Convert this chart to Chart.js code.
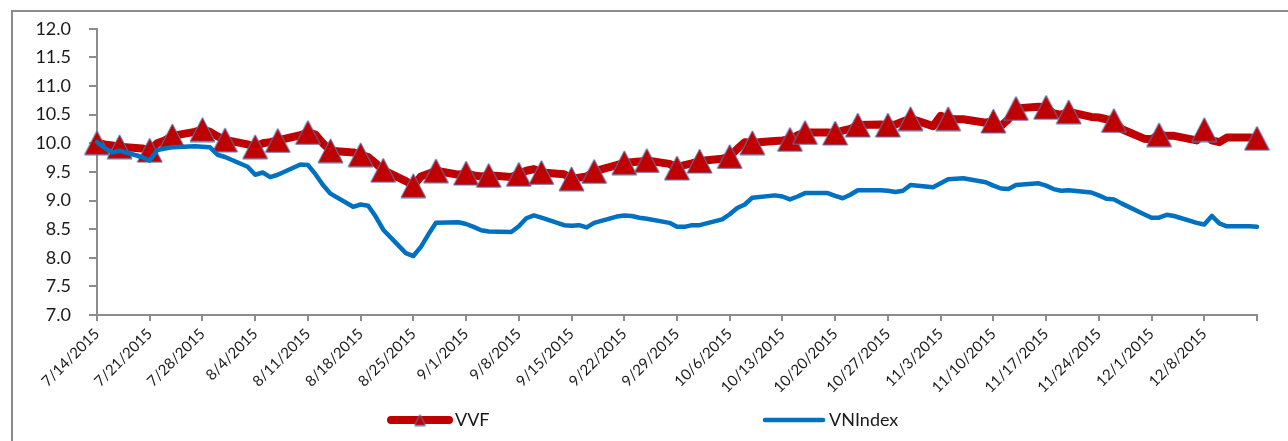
<!DOCTYPE html>
<html>
<head>
<meta charset="utf-8">
<script src="https://cdn.jsdelivr.net/npm/chart.js@4.4.1/dist/chart.umd.min.js"></script>
<style>
  html, body { margin: 0; padding: 0; background: #fff; }
  canvas { display: block; }
</style>
</head>
<body>
<canvas id="fundChart" width="1288" height="441"></canvas>
<script>
// axis runs from 7/14/2015 to 12/15/2015, one tick label per week
const startDate = new Date(2015, 6, 14);
const endDate = new Date(2015, 11, 15);
const tickStepDays = 7;

// one value per trading day (Mon-Fri), in date order
const vvf = [
  10.01, 9.98, 9.96, 9.94, 9.91,
  9.88, 10.00, 10.05, 10.13, 10.20,
  10.24, 10.20, 10.12, 10.06, 9.98,
  9.94, 10.00, 10.02, 10.05, 10.14,
  10.19, 10.15, 10.00, 9.87, 9.84,
  9.80, 9.76, 9.65, 9.53, 9.34,
  9.26, 9.42, 9.47, 9.52, 9.45,
  9.48, 9.44, 9.42, 9.44, 9.41,
  9.46, 9.52, 9.55, 9.49, 9.46,
  9.38, 9.40, 9.42, 9.51, 9.62,
  9.66, 9.67, 9.68, 9.70, 9.64,
  9.57, 9.62, 9.65, 9.69, 9.73,
  9.77, 9.90, 10.02, 10.01, 10.04,
  10.05, 10.07, 10.14, 10.19, 10.19,
  10.18, 10.22, 10.25, 10.32, 10.33,
  10.32, 10.33, 10.38, 10.43, 10.30,
  10.48, 10.43, 10.42, 10.42, 10.36,
  10.39, 10.30, 10.42, 10.61, 10.64,
  10.63, 10.52, 10.50, 10.55, 10.46,
  10.45, 10.42, 10.40, 10.25, 10.08,
  10.07, 10.15, 10.13, 10.13, 10.05,
  10.24, 10.05, 10.02, 10.10, 10.10,
  10.09
];

const vnIndex = [
  10.02, 9.92, 9.84, 9.87, 9.76,
  9.70, 9.88, 9.91, 9.93, 9.95,
  9.94, 9.93, 9.80, 9.76, 9.59,
  9.45, 9.49, 9.41, 9.45, 9.63,
  9.62, 9.46, 9.27, 9.12, 8.89,
  8.93, 8.91, 8.72, 8.49, 8.08,
  8.03, 8.19, 8.41, 8.61, 8.62,
  8.59, 8.54, 8.48, 8.46, 8.45,
  8.55, 8.69, 8.74, 8.70, 8.57,
  8.56, 8.57, 8.53, 8.61, 8.72,
  8.74, 8.73, 8.70, 8.68, 8.61,
  8.54, 8.54, 8.57, 8.57, 8.67,
  8.76, 8.87, 8.93, 9.05, 9.09,
  9.07, 9.02, 9.07, 9.13, 9.13,
  9.08, 9.04, 9.10, 9.18, 9.18,
  9.17, 9.15, 9.17, 9.27, 9.23,
  9.30, 9.37, 9.38, 9.39, 9.32,
  9.26, 9.21, 9.20, 9.27, 9.30,
  9.26, 9.20, 9.17, 9.18, 9.14,
  9.09, 9.03, 9.02, 8.95, 8.76,
  8.70, 8.70, 8.75, 8.73, 8.61,
  8.58, 8.73, 8.60, 8.55, 8.55,
  8.54
];

// days (offset from startDate) that carry a VVF triangle
const markerDays = [0, 3, 7, 10, 14, 17, 21, 24, 28, 31, 35, 38, 42, 45, 49, 52, 56, 59, 63, 66,
  70, 73, 77, 80, 84, 87, 92, 94, 98, 101, 105, 108, 113, 119, 122, 126, 129, 135, 141, 147, 154];

const yTicks = { min: 7, max: 12, step: 0.5 };

const totalDays = Math.round((endDate - startDate) / 86400000);
const tradingDays = [];
for (let d = 0; d <= totalDays; d++) {
  const wd = new Date(2015, 6, 14 + d).getDay();
  if (wd !== 0 && wd !== 6) tradingDays.push(d);
}

function dayLabel(d) {
  const dt = new Date(2015, 6, 14 + d);
  return (dt.getMonth() + 1) + '/' + dt.getDate() + '/' + dt.getFullYear();
}

function triangleImage(w, h, fill, stroke) {
  const c = document.createElement('canvas');
  c.width = w + 2;
  c.height = h + 2;
  const g = c.getContext('2d');
  g.beginPath();
  g.moveTo(c.width / 2, 1);
  g.lineTo(w + 1, h + 1);
  g.lineTo(1, h + 1);
  g.closePath();
  g.fillStyle = fill;
  g.fill();
  g.lineWidth = 1;
  g.strokeStyle = stroke;
  g.stroke();
  return c;
}

const RED = '#C00000';
const BLUE = '#0070C0';
const AXIS = '#8c8c8c';
const bigTriangle = triangleImage(25, 24, RED, '#4F81BD');
const smallTriangle = triangleImage(11, 11, RED, '#4F81BD');

Chart.defaults.font.family = 'Lato, "Open Sans", sans-serif';
Chart.defaults.color = '#1a1a1a';

// frame lines + legend drawn by hand so the two entries sit far apart like the original
const framePlugin = {
  id: 'frame',
  beforeDraw(chart) {
    const c = chart.ctx;
    c.save();
    c.fillStyle = '#fff';
    c.fillRect(0, 0, chart.width, chart.height);
    c.strokeStyle = AXIS;
    c.lineWidth = 2;
    c.beginPath();
    c.moveTo(12, chart.height);
    c.lineTo(12, 11);
    c.lineTo(chart.width, 11);
    c.stroke();
    c.restore();
  },
  afterDraw(chart) {
    const c = chart.ctx;
    const y = 420;
    const spots = [388, 762];
    c.save();
    c.font = '18px Lato, "Open Sans", sans-serif';
    c.textBaseline = 'middle';
    c.fillStyle = '#1a1a1a';
    c.lineCap = 'round';
    chart.data.datasets.forEach((ds, i) => {
      const x = spots[i];
      c.strokeStyle = ds.borderColor;
      c.lineWidth = ds.borderWidth;
      c.beginPath();
      c.moveTo(x + 3, y);
      c.lineTo(x + 61, y);
      c.stroke();
      if (ds.label === 'VVF') {
        c.drawImage(smallTriangle, x + 32 - smallTriangle.width / 2, y - smallTriangle.height / 2);
      }
      c.fillText(ds.label, x + 67, y);
    });
    c.restore();
  }
};

new Chart(document.getElementById('fundChart'), {
  type: 'line',
  data: {
    datasets: [
      {
        label: 'VVF',
        data: tradingDays.map((d, i) => ({ x: d, y: vvf[i] })),
        borderColor: RED,
        backgroundColor: RED,
        borderWidth: 8,
        borderJoinStyle: 'round',
        borderCapStyle: 'round',
        pointStyle: bigTriangle,
        pointRadius: (ctx) => (ctx.raw && markerDays.includes(ctx.raw.x) ? 12 : 0),
        tension: 0,
        clip: false,
        order: 2
      },
      {
        label: 'VNIndex',
        data: tradingDays.map((d, i) => ({ x: d, y: vnIndex[i] })),
        borderColor: BLUE,
        backgroundColor: BLUE,
        borderWidth: 4.5,
        borderJoinStyle: 'round',
        borderCapStyle: 'round',
        pointRadius: 0,
        tension: 0,
        clip: false,
        order: 1
      }
    ]
  },
  options: {
    responsive: false,
    animation: false,
    events: [],
    layout: { padding: { left: 0, right: 31, top: 25, bottom: 0 } },
    plugins: {
      legend: { display: false },
      tooltip: { enabled: false }
    },
    scales: {
      x: {
        type: 'linear',
        min: 0,
        max: totalDays,
        afterFit: (scale) => { scale.height = 126; },
        grid: { drawOnChartArea: false, drawTicks: true, tickLength: 6, color: AXIS, lineWidth: 2 },
        border: { color: AXIS, width: 2 },
        ticks: {
          stepSize: tickStepDays,
          maxTicksLimit: 40,
          autoSkip: false,
          minRotation: 45,
          maxRotation: 45,
          padding: 4,
          font: { size: 15 },
          callback: (v) => (v < totalDays ? dayLabel(v) : '')
        }
      },
      y: {
        min: yTicks.min,
        max: yTicks.max,
        afterFit: (scale) => { scale.width = 97; },
        grid: { drawOnChartArea: false, drawTicks: true, tickLength: 8, color: AXIS, lineWidth: 2 },
        border: { color: AXIS, width: 2 },
        ticks: {
          stepSize: yTicks.step,
          padding: 18,
          font: { size: 18 },
          callback: (v) => v.toFixed(1)
        }
      }
    }
  },
  plugins: [framePlugin]
});
</script>
</body>
</html>
